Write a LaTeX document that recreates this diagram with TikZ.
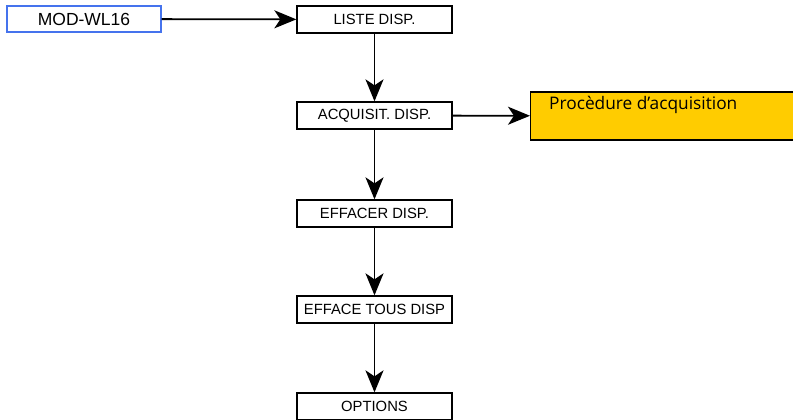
\documentclass[tikz,border=0pt]{standalone}
\usepackage{fontspec}
\setmainfont{Liberation Sans}
\newfontfamily\procfont{Open Sans}
\usetikzlibrary{arrows.meta,calc}
\definecolor{ModClr}{rgb}{0.27,0.45,0.93}
\definecolor{ProcClr}{rgb}{1,0.8,0}

\begin{document}
\begin{tikzpicture}[x=1pt,y=1pt,
  menubox/.style={draw=black,line width=1.3pt,fill=white,minimum width=155,minimum height=27,inner sep=0pt,font=\fontsize{14.8}{16}\selectfont},
  modbox/.style={draw=ModClr,line width=1.3pt,fill=white,minimum width=154,minimum height=26,inner sep=0pt,font=\fontsize{17.5}{20}\selectfont},
  procbox/.style={draw=black,line width=1.3pt,fill=ProcClr,minimum width=266,minimum height=48,inner sep=0pt},
  flow/.style={line width=1.8pt,-{Stealth[length=22pt,width=18pt,inset=6pt]}}]
\useasboundingbox (0,0) rectangle (793,-420);

\node[modbox] (mod) at (84,-19) {MOD-WL16};

\node[menubox] (liste) at (374.5,-19.5) {LISTE DISP.};
\node[menubox] (acq) at (374.5,-115.5) {ACQUISIT. DISP.};
\node[menubox] (eff) at (374.5,-213.5) {EFFACER DISP.};
\node[menubox] (efftous) at (374.5,-309.5) {EFFACE TOUS DISP};
\node[menubox] (opt) at (374.5,-406.5) {OPTIONS};

\node[procbox,anchor=west] (proc) at (530,-116) {};
\node[anchor=west,inner sep=0pt,font=\procfont\fontsize{17.3}{19}\selectfont] (proctxt) at ($(proc.north west)+(19,-14)$) {Procèdure d’acquisition};

\draw[flow] (mod) -- (liste);
\draw[flow] (liste) -- (acq);
\draw[flow] (acq) -- (eff);
\draw[flow] (eff) -- (efftous);
\draw[flow] (efftous) -- (opt);
\draw[flow] (acq) -- (proc);

\end{tikzpicture}
\end{document}
